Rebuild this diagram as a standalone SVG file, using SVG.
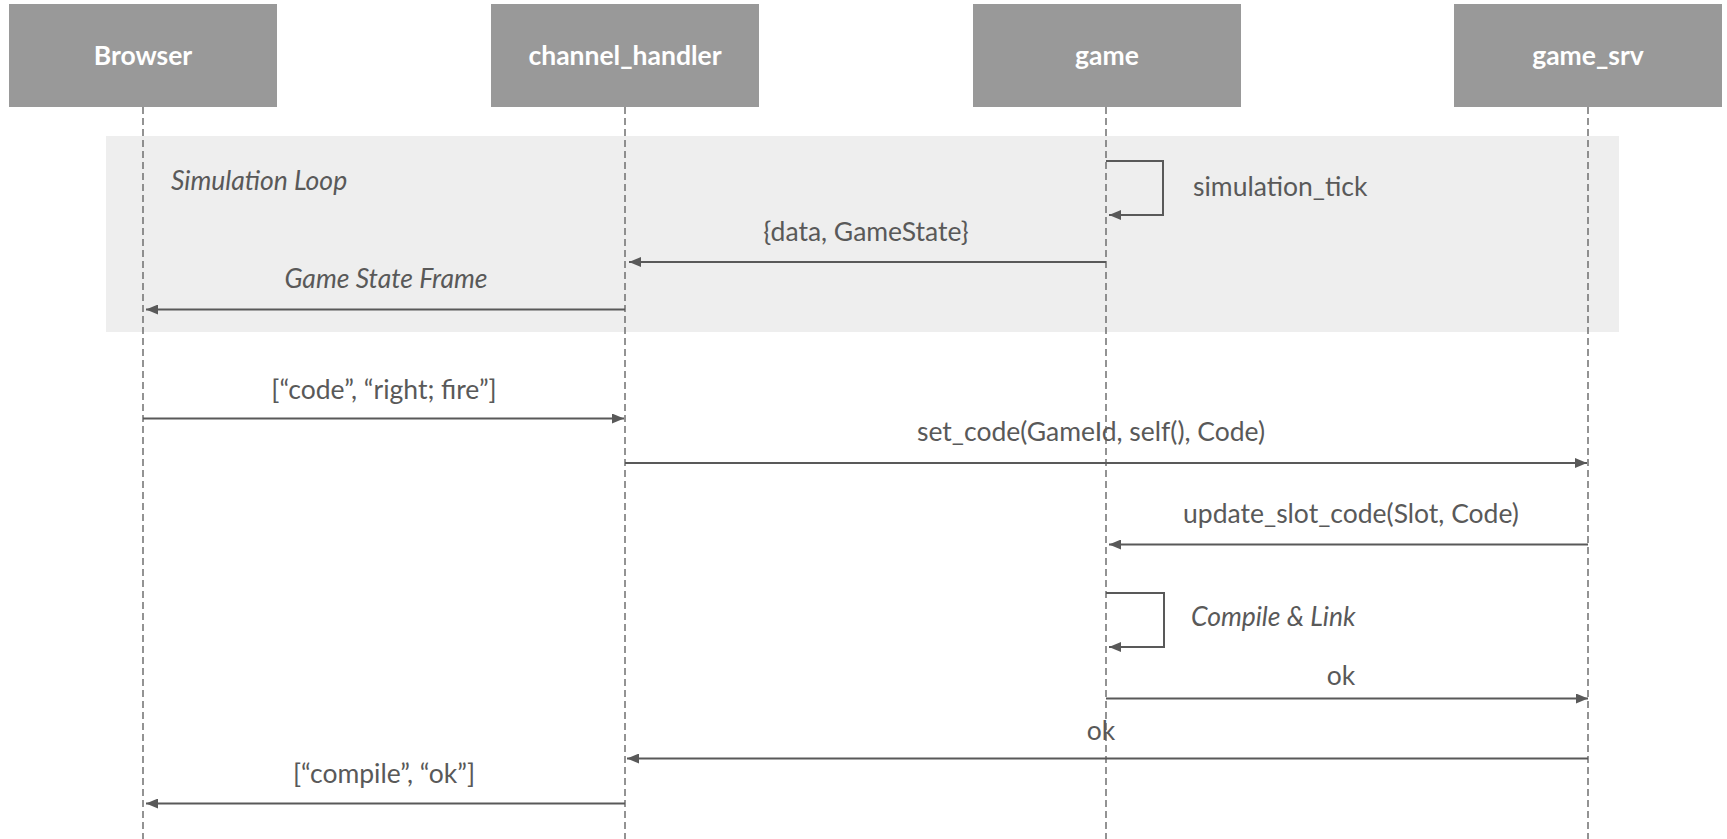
<svg xmlns="http://www.w3.org/2000/svg" width="1727" height="839" viewBox="0 0 1727 839">
<style>
.box{fill:#999999}
.title{font-family:Lato,"Liberation Sans",sans-serif;font-weight:bold;font-size:26.5px;fill:#ffffff;text-anchor:middle}
.life{stroke:#666666;stroke-width:1.4;stroke-dasharray:7 4;fill:none}
.msg{stroke:#595959;stroke-width:2;fill:none}
.lbl{font-family:Lato,"Liberation Sans",sans-serif;font-size:26.5px;fill:#595959;text-anchor:middle}
.it{font-style:italic}
.st{text-anchor:start}
</style>
<defs>
<marker id="ah" viewBox="0 0 12 10" refX="12" refY="5" markerWidth="12" markerHeight="10" markerUnits="userSpaceOnUse" orient="auto">
<path d="M0,0 L12,5 L0,10 Z" fill="#595959"/>
</marker>
</defs>
<rect width="1727" height="839" fill="#ffffff"/>
<rect id="loop" x="106" y="136" width="1513" height="196" fill="#eeeeee"/>
<g id="lifelines">
<line class="life" x1="143" y1="107" x2="143" y2="839"/>
<line class="life" x1="625" y1="107" x2="625" y2="839"/>
<line class="life" x1="1106" y1="107" x2="1106" y2="839"/>
<line class="life" x1="1588" y1="107" x2="1588" y2="839"/>
</g>
<g id="browser"><rect class="box" x="9" y="4" width="268" height="103"/><text class="title" x="143" y="65">Browser</text></g>
<g id="channel_handler"><rect class="box" x="491" y="4" width="268" height="103"/><text class="title" x="625" y="65">channel_handler</text></g>
<g id="game"><rect class="box" x="973" y="4" width="268" height="103"/><text class="title" x="1107" y="65">game</text></g>
<g id="game_srv"><rect class="box" x="1454" y="4" width="268" height="103"/><text class="title" x="1588" y="65">game_srv</text></g>
<text class="lbl it st" x="171" y="190">Simulation Loop</text>
<g id="connectors">
<path class="msg" d="M1106,161 H1163 V215 H1109" marker-end="url(#ah)"/>
<line class="msg" x1="1106" y1="262" x2="629" y2="262" marker-end="url(#ah)"/>
<line class="msg" x1="625" y1="309.5" x2="146" y2="309.5" marker-end="url(#ah)"/>
<line class="msg" x1="143" y1="418.5" x2="624" y2="418.5" marker-end="url(#ah)"/>
<line class="msg" x1="625" y1="463" x2="1587" y2="463" marker-end="url(#ah)"/>
<line class="msg" x1="1588" y1="544.5" x2="1109" y2="544.5" marker-end="url(#ah)"/>
<path class="msg" d="M1106,593 H1164 V647 H1109" marker-end="url(#ah)"/>
<line class="msg" x1="1106" y1="698.5" x2="1588" y2="698.5" marker-end="url(#ah)"/>
<line class="msg" x1="1588" y1="758.5" x2="627" y2="758.5" marker-end="url(#ah)"/>
<line class="msg" x1="625" y1="803.5" x2="146" y2="803.5" marker-end="url(#ah)"/>
</g>
<g id="labels">
<text class="lbl st" x="1193" y="196">simulation_tick</text>
<text class="lbl" x="866" y="241">{data, GameState}</text>
<text class="lbl it" x="386" y="288">Game State Frame</text>
<text class="lbl" x="384" y="399">[“code”, “right; fire”]</text>
<text class="lbl" x="1091" y="441">set_code(GameId, self(), Code)</text>
<text class="lbl" x="1351" y="523">update_slot_code(Slot, Code)</text>
<text class="lbl it st" x="1191" y="626">Compile &amp; Link</text>
<text class="lbl" x="1341" y="685">ok</text>
<text class="lbl" x="1101" y="740">ok</text>
<text class="lbl" x="384" y="783">[“compile”, “ok”]</text>
</g>
</svg>
